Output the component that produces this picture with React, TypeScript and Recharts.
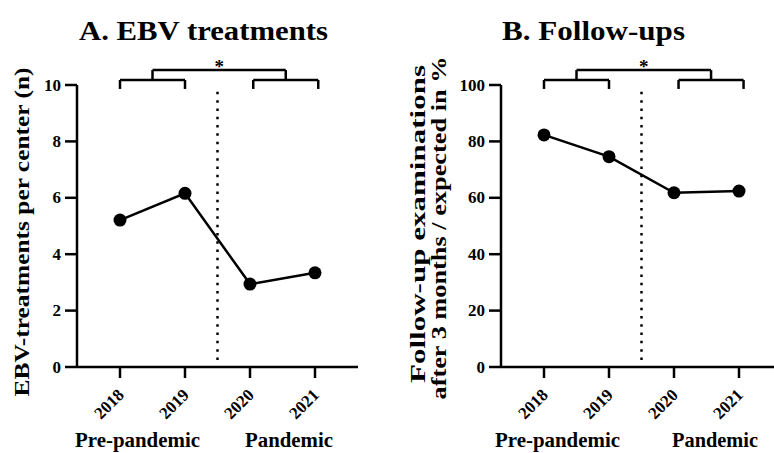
import React from 'react';
import { LineChart, Line, XAxis, YAxis, ReferenceLine, ReferenceDot } from 'recharts';

const years = [2018, 2019, 2020, 2021];
const ebvValues = [5.21, 6.16, 2.94, 3.34];
const followUpValues = [82.3, 74.6, 61.8, 62.4];
const ebvTicks = [0, 2, 4, 6, 8, 10];
const followTicks = [0, 20, 40, 60, 80, 100];
const groupLabels = ['Pre-pandemic', 'Pandemic'];

const FONT = 'Liberation Serif';

const YearTick = (props: any) => {
  const { x, y, payload } = props;
  const ax = x + 5;
  const ay = y + 16;
  return (
    <text x={ax} y={ay} transform={`rotate(-45 ${ax} ${ay})`} textAnchor="end"
      fontFamily={FONT} fontWeight="bold" fontSize={17} fill="#000">
      {payload.value}
    </text>
  );
};

const ValueTick = (props: any) => {
  const { x, y, payload } = props;
  return (
    <text x={x} y={y} dy={5.5} textAnchor="end" fontFamily={FONT} fontWeight="bold" fontSize={17} fill="#000">
      {payload.value}
    </text>
  );
};

type PanelProps = {
  values: number[];
  yMax: number;
  ticks: number[];
  width: number;
  marginLeft: number;
  marginRight: number;
  rightBracketShift: number;
};

const Panel = ({ values, yMax, ticks, width, marginLeft, marginRight, rightBracketShift }: PanelProps) => {
  const data = years.map((year, i) => ({ year, value: values[i] }));
  const pad = 43 / 65;
  const domain = [years[0] - pad, years[years.length - 1] + pad];
  const lowBar = yMax * 1.0177;
  const legBottom = yMax * 0.986;
  const highBar = yMax * 1.053;
  const divider = (years[1] + years[2]) / 2;
  const l1 = years[0], l2 = years[1];
  const r1 = years[2] + rightBracketShift, r2 = years[3] + rightBracketShift;
  const lm = (l1 + l2) / 2, rm = (r1 + r2) / 2;
  const seg = (a: number, b: number, c: number, d: number, key: string) => (
    <ReferenceLine key={key} segment={[{ x: a, y: b }, { x: c, y: d }]} stroke="#000" strokeWidth={2.5} ifOverflow="visible" />
  );
  return (
    <LineChart width={width} height={453} data={data}
      margin={{ top: 85, right: marginRight, bottom: 0, left: marginLeft }}>
      <XAxis dataKey="year" type="number" domain={domain} ticks={years} allowDataOverflow
        height={86} tickSize={11} tickLine={{ stroke: '#000', strokeWidth: 2.5 }}
        axisLine={{ stroke: '#000', strokeWidth: 2.5 }} tick={<YearTick />} interval={0} />
      <YAxis type="number" domain={[0, yMax]} ticks={ticks} width={60} tickSize={12} tickMargin={4}
        tickLine={{ stroke: '#000', strokeWidth: 2.5 }} axisLine={{ stroke: '#000', strokeWidth: 2.5 }}
        tick={<ValueTick />} interval={0} />
      <ReferenceLine segment={[{ x: divider, y: yMax * 0.025 }, { x: divider, y: yMax * 0.982 }]}
        stroke="#000" strokeWidth={2.5} strokeDasharray="2.5 5.8" ifOverflow="visible" />
      {seg(l1, legBottom, l1, lowBar, 'a1')}
      {seg(l1, lowBar, l2, lowBar, 'a2')}
      {seg(l2, lowBar, l2, legBottom, 'a3')}
      {seg(r1, legBottom, r1, lowBar, 'b1')}
      {seg(r1, lowBar, r2, lowBar, 'b2')}
      {seg(r2, lowBar, r2, legBottom, 'b3')}
      {seg(lm, lowBar, lm, highBar, 'c1')}
      {seg(lm, highBar, rm, highBar, 'c2')}
      {seg(rm, highBar, rm, lowBar, 'c3')}
      <ReferenceDot x={(lm + rm) / 2} y={highBar} r={1} fill="none" stroke="none" ifOverflow="visible"
        label={{
          content: (p: any) => {
            const vb = p.viewBox || {};
            const cx = (vb.x ?? 0) + (vb.width ?? 0) / 2;
            const cy = (vb.y ?? 0) + (vb.height ?? 0) / 2;
            return (
              <text x={cx} y={cy + 3} textAnchor="middle" fontFamily={FONT} fontWeight="bold" fontSize={19} fill="#000">*</text>
            );
          },
        }} />
      <Line type="linear" dataKey="value" stroke="#000" strokeWidth={2.5} isAnimationActive={false}
        dot={{ r: 6.5, fill: '#000', stroke: '#000', strokeWidth: 0 }} activeDot={false} />
    </LineChart>
  );
};

const txt = { fontFamily: FONT, fontWeight: 'bold' as const, fill: '#000', lengthAdjust: 'spacingAndGlyphs' as const };

export default function App() {
  return (
    <div style={{ position: 'absolute', left: 0, top: 0, width: 774, height: 453, overflow: 'hidden', background: '#fff' }}>
      <div style={{ position: 'absolute', left: 0, top: 0 }}>
        <Panel values={ebvValues} yMax={10} ticks={ebvTicks} width={387} marginLeft={17} marginRight={29} rightBracketShift={0.05} />
      </div>
      <div style={{ position: 'absolute', left: 386, top: 0 }}>
        <Panel values={followUpValues} yMax={100} ticks={followTicks} width={400} marginLeft={55} marginRight={4} rightBracketShift={0.07} />
      </div>
      <svg width={774} height={453} style={{ position: 'absolute', left: 0, top: 0, pointerEvents: 'none' }}>
        <text x={203.5} y={40} textAnchor="middle" fontSize={27} textLength={249} {...txt}>A. EBV treatments</text>
        <text x={593.5} y={40} textAnchor="middle" fontSize={27} textLength={183} {...txt}>B. Follow-ups</text>
        <text x={0} y={0} transform="translate(29 232) rotate(-90)" textAnchor="middle" fontSize={22} textLength={329} {...txt}>
          EBV-treatments per center (n)
        </text>
        <text x={0} y={0} transform="translate(425 224) rotate(-90)" textAnchor="middle" fontSize={21} textLength={318} {...txt}>
          Follow-up examinations
        </text>
        <text x={0} y={0} transform="translate(446 228) rotate(-90)" textAnchor="middle" fontSize={21} textLength={343} {...txt}>
          after 3 months / expected in %
        </text>
        <text x={137.5} y={447} textAnchor="middle" fontSize={21} textLength={125} {...txt}>{groupLabels[0]}</text>
        <text x={289} y={447} textAnchor="middle" fontSize={21} textLength={88} {...txt}>{groupLabels[1]}</text>
        <text x={557.5} y={447} textAnchor="middle" fontSize={21} textLength={125} {...txt}>{groupLabels[0]}</text>
        <text x={715} y={447} textAnchor="middle" fontSize={21} textLength={86} {...txt}>{groupLabels[1]}</text>
      </svg>
    </div>
  );
}
